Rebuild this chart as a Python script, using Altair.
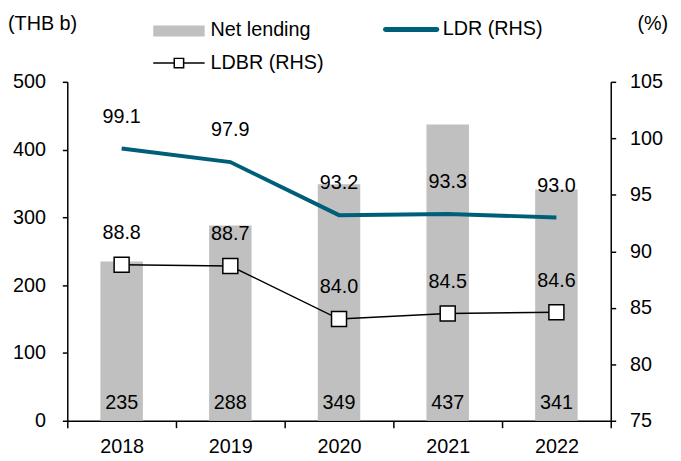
import altair as alt
import pandas as pd

years = ["2018", "2019", "2020", "2021", "2022"]
net_lending = [235, 288, 349, 437, 341]
ldr = [99.1, 97.9, 93.2, 93.3, 93.0]
ldbr = [88.8, 88.7, 84.0, 84.5, 84.6]

left_ticks = [0, 100, 200, 300, 400, 500]
right_ticks = [75, 80, 85, 90, 95, 100, 105]

df = pd.DataFrame({"year": years, "net": net_lending, "ldr": ldr, "ldbr": ldbr})
one = pd.DataFrame({"k": [0]})

FONT = "Liberation Sans"
FS = 20
TEAL = "#005f78"
GREY = "#c0c0c0"

x = alt.X(
    "year:N",
    sort=years,
    scale=alt.Scale(paddingInner=0, paddingOuter=0),
    axis=alt.Axis(title=None, labelAngle=0, tickBand="extent", tickSize=7, labelPadding=9),
)

left_scale = alt.Scale(domain=[0, 500])
right_scale = alt.Scale(domain=[75, 105])
left_axis = alt.Axis(title=None, values=left_ticks, orient="left", tickSize=5, labelPadding=17)
right_axis = alt.Axis(title=None, values=right_ticks, orient="right", tickSize=5, labelPadding=14)

base = alt.Chart(df)

bars = base.mark_bar(color=GREY, size=43).encode(
    x=x, y=alt.Y("net:Q", scale=left_scale, axis=left_axis)
)
bar_text = base.transform_calculate(zero="0").mark_text(
    dy=-18, fontSize=FS, font=FONT, color="black"
).encode(x=x, y=alt.Y("zero:Q", scale=left_scale, axis=left_axis), text=alt.Text("net:Q"))
left = alt.layer(bars, bar_text)

ldr_line = base.mark_line(color=TEAL, strokeWidth=4).encode(
    x=x, y=alt.Y("ldr:Q", scale=right_scale, axis=right_axis)
)
ldr_text = base.mark_text(dy=-32, fontSize=FS, font=FONT, color="black").encode(
    x=x, y=alt.Y("ldr:Q", scale=right_scale, axis=right_axis), text=alt.Text("ldr:Q", format=".1f")
)
ldbr_line = base.mark_line(color="black", strokeWidth=1.5).encode(
    x=x, y=alt.Y("ldbr:Q", scale=right_scale, axis=right_axis)
)
ldbr_pts = base.mark_point(
    shape="square", filled=True, fill="white", stroke="black", strokeWidth=1.5, size=230, opacity=1
).encode(x=x, y=alt.Y("ldbr:Q", scale=right_scale, axis=right_axis))
ldbr_text = base.mark_text(dy=-32, fontSize=FS, font=FONT, color="black").encode(
    x=x, y=alt.Y("ldbr:Q", scale=right_scale, axis=right_axis), text=alt.Text("ldbr:Q", format=".1f")
)
right = alt.layer(ldr_line, ldr_text, ldbr_line, ldbr_pts, ldbr_text)

lg = alt.Chart(one)


def ltext(s, xp, yp):
    return lg.mark_text(align="left", baseline="middle", fontSize=FS, font=FONT, color="black").encode(
        x=alt.value(xp), y=alt.value(yp), text=alt.value(s)
    )


leg_rect = lg.mark_rect(color=GREY).encode(
    x=alt.value(87), x2=alt.value(139), y=alt.value(-57), y2=alt.value(-46)
)
leg_ldr = lg.mark_rule(color=TEAL, strokeWidth=5, strokeCap="round").encode(
    x=alt.value(322), x2=alt.value(374), y=alt.value(-53)
)
leg_ldbr = lg.mark_rule(color="black", strokeWidth=1.5).encode(
    x=alt.value(87), x2=alt.value(139), y=alt.value(-19)
)
leg_sq = lg.mark_point(
    shape="square", filled=True, fill="white", stroke="black", strokeWidth=1.5, size=90, opacity=1
).encode(x=alt.value(113), y=alt.value(-19))

legend = alt.layer(
    leg_rect,
    ltext("Net lending", 145, -52),
    leg_ldr,
    ltext("LDR (RHS)", 380, -53),
    leg_ldbr,
    leg_sq,
    ltext("LDBR (RHS)", 145, -19),
    ltext("(THB b)", -60, -58),
    ltext("(%)", 577, -58),
)

chart = (
    alt.layer(left, right, legend)
    .resolve_scale(y="independent")
    .properties(
        width=550,
        height=343,
        autosize=alt.AutoSizeParams(type="none"),
        padding={"left": 60, "top": 72, "right": 63, "bottom": 38},
    )
    .configure_view(stroke=None)
    .configure_axis(
        domainColor="black",
        tickColor="black",
        labelColor="black",
        labelFont=FONT,
        labelFontSize=FS,
        domainWidth=1.5,
        tickWidth=1.5,
        grid=False,
    )
)

chart.save("out.html", embed_options={"renderer": "svg", "actions": False})
